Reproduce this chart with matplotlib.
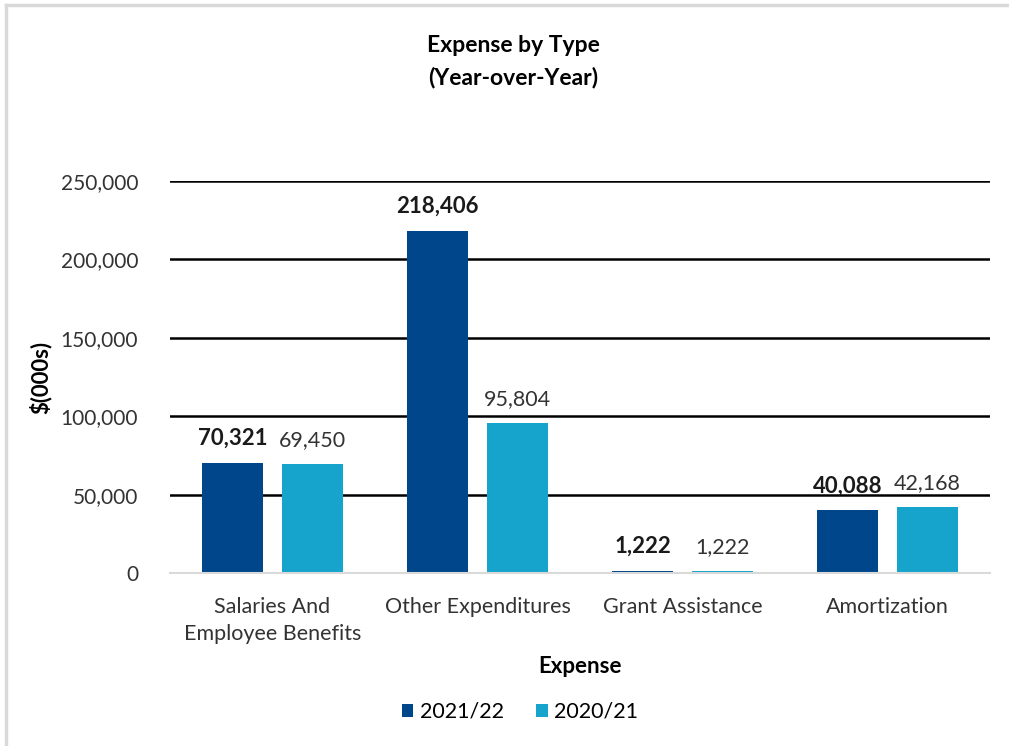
import numpy as np
import matplotlib.pyplot as plt
from matplotlib.lines import Line2D

plt.rcParams['font.family'] = ['Lato', 'DejaVu Sans']

categories = ["Salaries And\nEmployee Benefits", "Other Expenditures",
              "Grant Assistance", "Amortization"]
fy2122 = [70321, 218406, 1222, 40088]
fy2021 = [69450, 95804, 1222, 42168]
series_names = ["2021/22", "2020/21"]
yticks = [0, 50000, 100000, 150000, 200000, 250000]

dark = "#00468B"
light = "#16A3CC"

fig = plt.figure(figsize=(10.09, 7.46), dpi=100)
ax = fig.add_axes([170/1009, 1 - 573/746, 820/1009, (573-181)/746])

x = np.arange(len(categories))
w = 0.30
off = 0.195
b1 = ax.bar(x - off, fy2122, w, color=dark, label=series_names[0], zorder=3)
b2 = ax.bar(x + off, fy2021, w, color=light, label=series_names[1], zorder=3)

for rect, v in zip(b1, fy2122):
    ax.annotate(f"{v:,}", (rect.get_x() + rect.get_width()/2, v),
                xytext=(0, 10), textcoords="offset points", ha="center", va="bottom",
                fontsize=16, fontweight="bold", color="#1a1a1a")
for rect, v in zip(b2, fy2021):
    ax.annotate(f"{v:,}", (rect.get_x() + rect.get_width()/2, v),
                xytext=(0, 10), textcoords="offset points", ha="center", va="bottom",
                fontsize=15.5, color="#333333")

ax.set_xlim(-0.5, 3.5)
ax.set_ylim(0, 250000)
ax.set_yticks(yticks)
ax.set_yticklabels([f"{t:,}" for t in yticks], fontsize=15, color="#333333")
ax.set_xticks(x)
ax.set_xticklabels(categories, fontsize=15.5, color="#333333", linespacing=1.45)
ax.tick_params(axis="both", length=0)
ax.tick_params(axis="y", pad=23)
ax.tick_params(axis="x", pad=17)
for t in yticks[1:]:
    ax.axhline(t, color="black", lw=1.8, zorder=1)
for s in ["top", "right", "left"]:
    ax.spines[s].set_visible(False)
ax.spines["bottom"].set_color("#D9D9D9")
ax.spines["bottom"].set_linewidth(1.5)
ax.spines["bottom"].set_zorder(4)

ax.set_xlabel("Expense", fontsize=16, fontweight="bold", labelpad=9)
fig.text(40/1009, 1 - 377/746, "$(000s)", rotation=90, fontsize=16,
         fontweight="bold", ha="center", va="center")
fig.text(513/1009, 1 - 45/746, "Expense by Type", fontsize=16.5, fontweight="bold",
         ha="center", va="center")
fig.text(513/1009, 1 - 78/746, "(Year-over-Year)", fontsize=16.5, fontweight="bold",
         ha="center", va="center")

fig.legend(loc="center", bbox_to_anchor=(520/1009, 1 - 712/746), ncol=2,
           frameon=False, fontsize=15.5, handlelength=0.55, handleheight=0.55,
           handletextpad=0.3, columnspacing=1.5)

fig.add_artist(Line2D([6/1009, 6/1009], [0, 1 - 5/746], color="#D9D9D9", lw=2.5))
fig.add_artist(Line2D([6/1009, 1], [1 - 5/746, 1 - 5/746], color="#D9D9D9", lw=2.5))

fig.savefig("out.png", dpi=100)
